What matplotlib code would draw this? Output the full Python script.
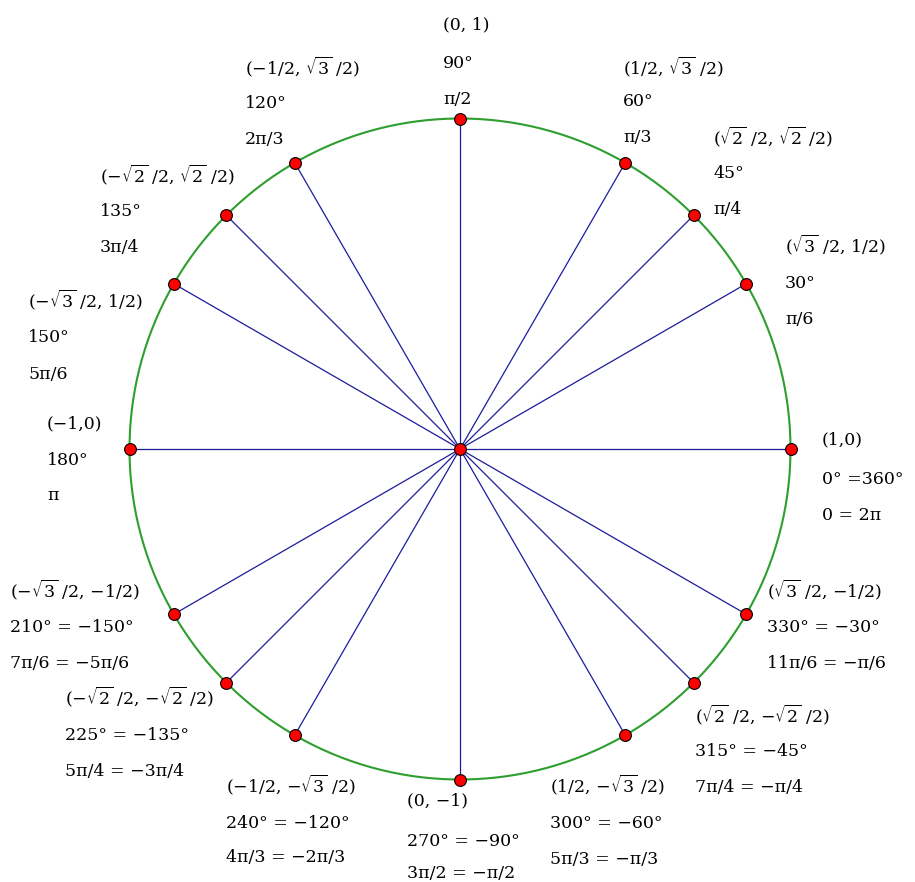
import numpy as np
import matplotlib.pyplot as plt

plt.rcParams['font.family'] = ['DejaVu Serif']
plt.rcParams['mathtext.fontset'] = 'dejavuserif'

# angles on the unit circle (degrees) and their labels
angles = [0, 30, 45, 60, 90, 120, 135, 150, 180, 210, 225, 240, 270, 300, 315, 330]
coords = ['(1,0)', '($\\sqrt{3}$ /2, 1/2)', '($\\sqrt{2}$ /2, $\\sqrt{2}$ /2)', '(1/2, $\\sqrt{3}$ /2)',
          '(0, 1)', '(\u22121/2, $\\sqrt{3}$ /2)', '(\u2212$\\sqrt{2}$ /2, $\\sqrt{2}$ /2)',
          '(\u2212$\\sqrt{3}$ /2, 1/2)', '(\u22121,0)', '(\u2212$\\sqrt{3}$ /2, \u22121/2)',
          '(\u2212$\\sqrt{2}$ /2, \u2212$\\sqrt{2}$ /2)', '(\u22121/2, \u2212$\\sqrt{3}$ /2)',
          '(0, \u22121)', '(1/2, \u2212$\\sqrt{3}$ /2)', '($\\sqrt{2}$ /2, \u2212$\\sqrt{2}$ /2)',
          '($\\sqrt{3}$ /2, \u22121/2)']
degrees = ['0\u00b0 =360\u00b0', '30\u00b0', '45\u00b0', '60\u00b0', '90\u00b0', '120\u00b0',
           '135\u00b0', '150\u00b0', '180\u00b0', '210\u00b0 = \u2212150\u00b0',
           '225\u00b0 = \u2212135\u00b0', '240\u00b0 = \u2212120\u00b0', '270\u00b0 = \u221290\u00b0',
           '300\u00b0 = \u221260\u00b0', '315\u00b0 = \u221245\u00b0', '330\u00b0 = \u221230\u00b0']
radians = ['0 = 2\u03c0', '\u03c0/6', '\u03c0/4', '\u03c0/3', '\u03c0/2', '2\u03c0/3', '3\u03c0/4',
           '5\u03c0/6', '\u03c0', '7\u03c0/6 = \u22125\u03c0/6', '5\u03c0/4 = \u22123\u03c0/4',
           '4\u03c0/3 = \u22122\u03c0/3', '3\u03c0/2 = \u2212\u03c0/2', '5\u03c0/3 = \u2212\u03c0/3',
           '7\u03c0/4 = \u2212\u03c0/4', '11\u03c0/6 = \u2212\u03c0/6']

# label block positions in pixels: left x, and y of each of the three lines
label_pos = [(822, 440, 479, 516), (785, 245, 283, 320), (713, 137, 174, 210), (623, 67, 102, 138),
             (443, 25, 63, 100), (245, 67, 103, 139), (100, 175, 211, 248), (28, 300, 337, 375),
             (47, 424, 461, 496), (10, 590, 627, 664), (65, 697, 735, 772), (226, 785, 823, 858),
             (407, 801, 841, 874), (550, 785, 823, 860), (695, 715, 752, 788), (767, 590, 627, 664)]

W, H = 915, 882
cx, cy, r = 460, 449, 330.5

fig = plt.figure(figsize=(W / 100, H / 100), dpi=100)
ax = fig.add_axes([0, 0, 1, 1])
ax.set_xlim(-cx / r, (W - cx) / r)
ax.set_ylim(-(H - cy) / r, cy / r)
ax.axis('off')

t = np.linspace(0, 2 * np.pi, 400)
ax.plot(np.cos(t), np.sin(t), color='#2e9e2e', lw=1.5, zorder=1)

rad = np.radians(angles)
for a in rad:
    ax.plot([0, np.cos(a)], [0, np.sin(a)], color='#1c1c9c', lw=0.9, zorder=2)
ax.plot(np.cos(rad), np.sin(rad), 'o', ms=8.5, mfc='red', mec='black', mew=0.8, zorder=3)
ax.plot([0], [0], 'o', ms=8.5, mfc='red', mec='black', mew=0.8, zorder=3)

for i in range(len(angles)):
    x, y1, y2, y3 = label_pos[i]
    for txt, y in zip([coords[i], degrees[i], radians[i]], [y1, y2, y3]):
        fig.text(x / W, 1 - y / H, txt, fontsize=12.5, ha='left', va='center')

fig.savefig('out.png', dpi=100)
